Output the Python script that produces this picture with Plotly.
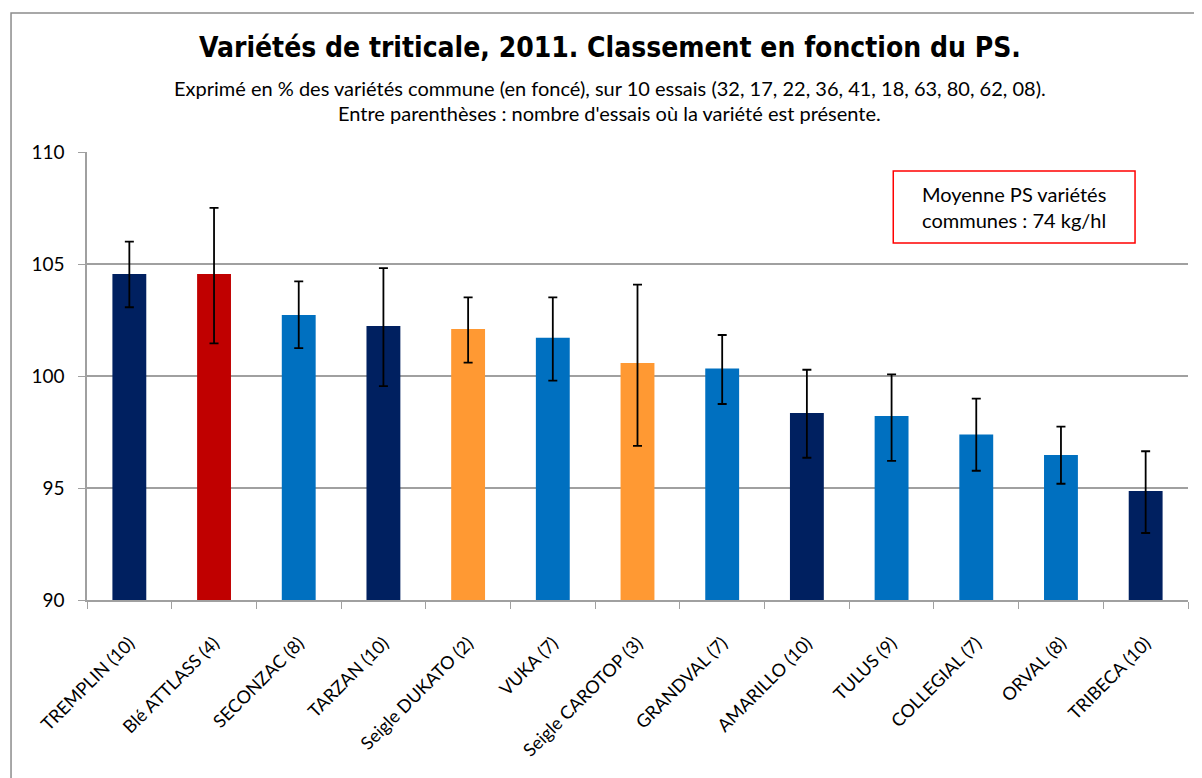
import plotly.graph_objects as go

categories = ["TREMPLIN (10)", "Blé ATTLASS (4)", "SECONZAC (8)", "TARZAN (10)",
              "Seigle DUKATO (2)", "VUKA (7)", "Seigle CAROTOP (3)", "GRANDVAL (7)",
              "AMARILLO (10)", "TULUS (9)", "COLLEGIAL (7)", "ORVAL (8)", "TRIBECA (10)"]
values = [104.55, 104.55, 102.72, 102.23, 102.1, 101.71, 100.58, 100.33,
          98.35, 98.21, 97.39, 96.47, 94.87]
err_plus = [1.45, 2.96, 1.5, 2.59, 1.41, 1.8, 3.5, 1.5, 1.93, 1.86, 1.6, 1.27, 1.77]
err_minus = [1.48, 3.09, 1.48, 2.68, 1.5, 1.92, 3.7, 1.58, 2.0, 2.0, 1.62, 1.28, 1.88]
colors = ["#002060", "#C00000", "#0070C0", "#002060", "#FF9933", "#0070C0", "#FF9933",
          "#0070C0", "#002060", "#0070C0", "#0070C0", "#0070C0", "#002060"]

base = 90

fig = go.Figure()
fig.add_trace(go.Bar(
    x=categories,
    y=[v - base for v in values],
    base=base,
    marker=dict(color=colors, line=dict(width=0)),
    width=0.4,
    error_y=dict(type="data", symmetric=False, array=err_plus, arrayminus=err_minus,
                 color="black", thickness=1.8, width=4.5),
    showlegend=False,
))

font_main = "Lato, Open Sans, sans-serif"
font_title = "DejaVu Sans Condensed, Liberation Sans Narrow, sans-serif"

fig.update_layout(
    width=1194, height=770,
    margin=dict(l=79, r=14, t=144, b=178),
    paper_bgcolor="white", plot_bgcolor="white",
    font=dict(family=font_main, color="black", size=15),
    xaxis=dict(
        type="category",
        tickangle=-45,
        automargin=False,
        ticks="outside", tickson="boundaries", ticklen=7, tickcolor="#A0A0A0",
        showline=True, linecolor="#A0A0A0", linewidth=1.5,
        showgrid=False,
        ticklabelstandoff=24,
        tickfont=dict(family=font_main, size=18, color="black"),
    ),
    yaxis=dict(
        range=[90, 110],
        automargin=False,
        tickvals=[90, 95, 100, 105, 110],
        ticks="outside", ticklen=7, tickcolor="#A0A0A0",
        showline=True, linecolor="#A0A0A0", linewidth=1.5,
        showgrid=True, gridcolor="#A0A0A0", gridwidth=1.5,
        zeroline=False,
        ticklabelstandoff=10,
        tickfont=dict(family=font_main, size=19, color="black"),
    ),
    shapes=[
        dict(type="rect", xref="paper", yref="paper",
             x0=-0.069, x1=1.05, y0=-0.5, y1=1.3103,
             line=dict(color="#8C8C8C", width=1.5), layer="below"),
        dict(type="rect", xref="paper", yref="paper",
             x0=0.7323, x1=0.9519, y0=0.7969, y1=0.9576,
             line=dict(color="#FF0000", width=1.5), fillcolor="white", layer="above"),
    ],
    annotations=[
        dict(text="<b>Variétés de triticale, 2011. Classement en fonction du PS.</b>",
             xref="paper", yref="paper", x=0.4746, y=1.234, xanchor="center", yanchor="middle",
             showarrow=False, font=dict(family=font_title, size=28, color="black")),
        dict(text="Exprimé en % des variétés commune (en foncé), sur 10 essais (32, 17, 22, 36, 41, 18, 63, 80, 62, 08).",
             xref="paper", yref="paper", x=0.4746, y=1.143, xanchor="center", yanchor="middle",
             showarrow=False, font=dict(family=font_main, size=20, color="black")),
        dict(text="Entre parenthèses : nombre d'essais où la variété est présente.",
             xref="paper", yref="paper", x=0.4746, y=1.087, xanchor="center", yanchor="middle",
             showarrow=False, font=dict(family=font_main, size=20, color="black")),
        dict(text="Moyenne PS variétés<br>communes : 74 kg/hl",
             xref="paper", yref="paper", x=0.8421, y=0.877, xanchor="center", yanchor="middle",
             showarrow=False, align="center",
             font=dict(family=font_main, size=20, color="black")),
    ],
)

fig.write_html("out.html")
